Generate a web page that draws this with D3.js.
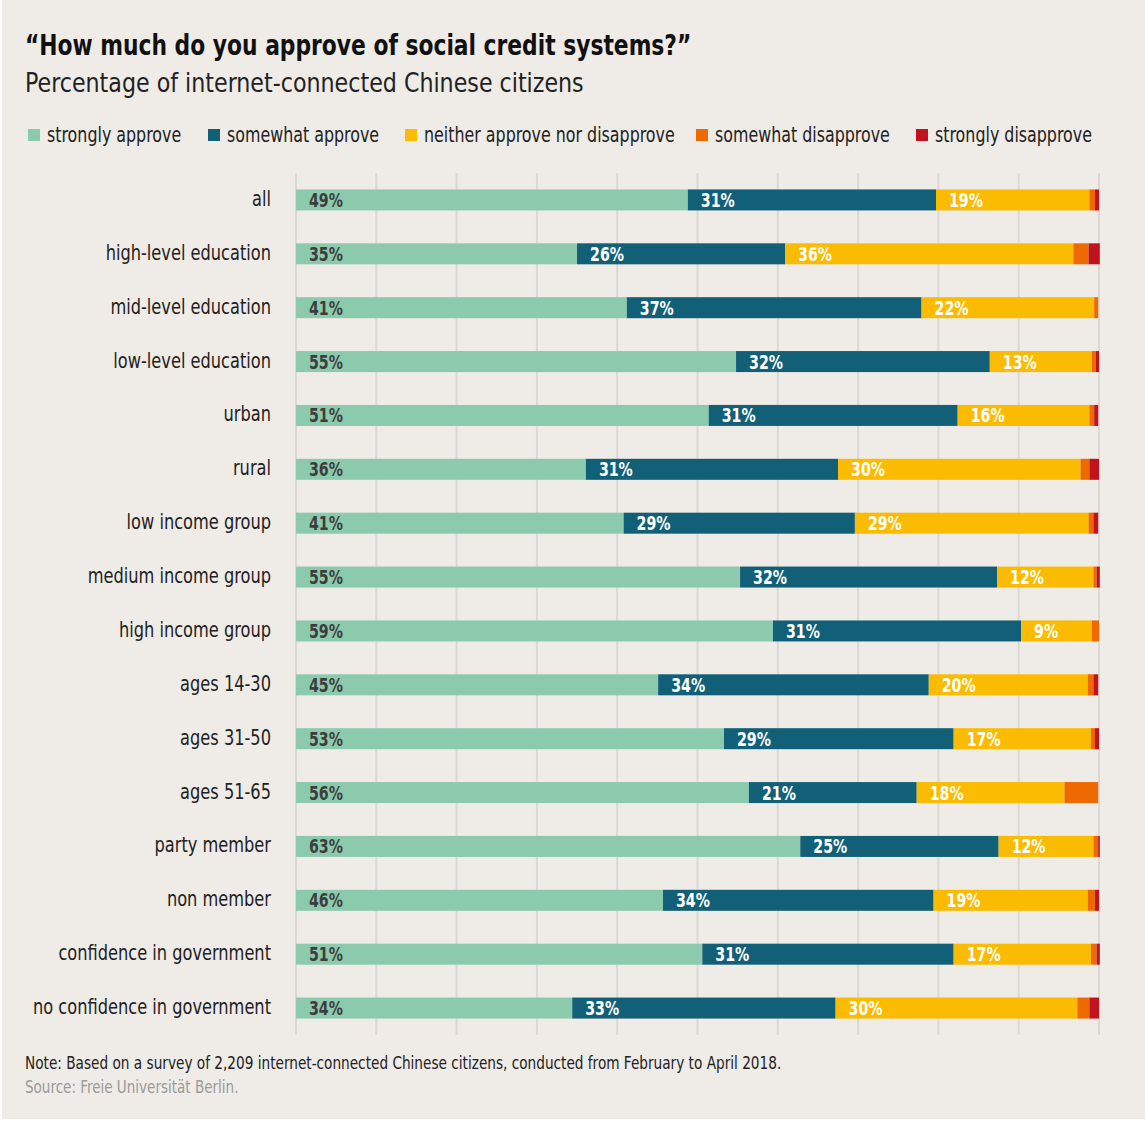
<!DOCTYPE html>
<html lang="en">
<head>
    <meta charset="UTF-8">
    <title>Social credit approval</title>
    <script src="https://cdn.jsdelivr.net/npm/d3@7/dist/d3.min.js"></script>
    <style>
        html, body { margin: 0; padding: 0; background: #ffffff; }
        svg { display: block; }
        text { font-family: "DejaVu Sans Condensed", "DejaVu Sans", sans-serif; }
    </style>
</head>
<body>
<div id="chart"></div>
<script>
// Data (percent of respondents)
const categories = [
    "all", "high-level education", "mid-level education", "low-level education",
    "urban", "rural", "low income group", "medium income group", "high income group",
    "ages 14-30", "ages 31-50", "ages 51-65", "party member", "non member",
    "confidence in government", "no confidence in government"
];
const seriesNames = [
    "strongly approve", "somewhat approve", "neither approve nor disapprove",
    "somewhat disapprove", "strongly disapprove"
];
const stronglyApprove    = [48.8, 35.0, 41.2, 54.8, 51.4, 36.1, 40.8, 55.3, 59.4, 45.1, 53.3, 56.4, 62.8, 45.7, 50.6, 34.4];
const somewhatApprove    = [30.9, 25.9, 36.7, 31.6, 31.0, 31.4, 28.8, 32.0, 30.9, 33.7, 28.6, 20.9, 24.7, 33.7, 31.3, 32.8];
const neither            = [19.1, 35.9, 21.5, 12.7, 16.4, 30.2, 29.1, 12.0, 8.8, 19.8, 17.1, 18.4, 11.8, 19.2, 17.1, 30.1];
const somewhatDisapprove = [0.7, 1.9, 0.5, 0.5, 0.6, 1.1, 0.6, 0.4, 0.9, 0.7, 0.5, 4.2, 0.6, 0.9, 0.7, 1.5];
const stronglyDisapprove = [0.5, 1.4, 0.0, 0.4, 0.5, 1.2, 0.6, 0.4, 0.0, 0.6, 0.5, 0.0, 0.2, 0.5, 0.4, 1.2];
const xTicks = [0, 10, 20, 30, 40, 50, 60, 70, 80, 90, 100];

const colors = ["#8ccaae", "#125f78", "#fbbb00", "#ee6a00", "#c0131f"];
const labelColors = ["#3d3d3d", "#ffffff", "#ffffff", null, null];

const width = 1145, height = 1121;
const margin = { top: 173, right: 46, bottom: 87, left: 296 };

// the reference uses a condensed face, so narrow the glyphs a bit
function squeeze(sel, k) {
    sel.each(function() {
        const len = this.getComputedTextLength();
        d3.select(this)
            .attr("textLength", len * k)
            .attr("lengthAdjust", "spacingAndGlyphs");
    });
}

const rows = categories.map((c, i) => ({
    category: c,
    "strongly approve": stronglyApprove[i],
    "somewhat approve": somewhatApprove[i],
    "neither approve nor disapprove": neither[i],
    "somewhat disapprove": somewhatDisapprove[i],
    "strongly disapprove": stronglyDisapprove[i]
}));

const stack = d3.stack().keys(seriesNames)(rows);

const svg = d3.select("#chart").append("svg")
    .attr("width", width)
    .attr("height", height);

// background with thin white edge on left and bottom
svg.append("rect")
    .attr("x", 2).attr("y", 0)
    .attr("width", width - 2).attr("height", height - 2)
    .attr("fill", "#efebe6");

const x = d3.scaleLinear()
    .domain([0, 100])
    .range([margin.left, width - margin.right]);

const y = d3.scaleBand()
    .domain(categories)
    .range([margin.top, height - margin.bottom + 1])
    .paddingInner(0.61)
    .paddingOuter(0.305);

// Title
svg.append("text")
    .attr("x", 25).attr("y", 55)
    .attr("font-size", 29)
    .attr("font-weight", "bold")
    .attr("fill", "#111")
    .text("\u201cHow much do you approve of social credit systems?\u201d")
    .call(squeeze, 0.836);

svg.append("text")
    .attr("x", 25).attr("y", 92)
    .attr("font-size", 27)
    .attr("fill", "#222")
    .text("Percentage of internet-connected Chinese citizens")
    .call(squeeze, 0.913);

// Legend
const legendX = [28, 208, 405, 696, 916];
const legend = svg.append("g");
seriesNames.forEach((name, i) => {
    legend.append("rect")
        .attr("x", legendX[i]).attr("y", 129)
        .attr("width", 12).attr("height", 12)
        .attr("fill", colors[i]);
    legend.append("text")
        .attr("x", legendX[i] + 19).attr("y", 142)
        .attr("font-size", 21)
        .attr("fill", "#222")
        .text(name)
        .call(squeeze, 0.84);
});

// Gridlines
svg.append("g")
    .selectAll("line")
    .data(xTicks)
    .join("line")
    .attr("x1", d => x(d)).attr("x2", d => x(d))
    .attr("y1", margin.top).attr("y2", 1035)
    .attr("stroke", "#dbd8d5")
    .attr("stroke-width", 2);

// Category labels
svg.append("g")
    .selectAll("text")
    .data(categories)
    .join("text")
    .attr("x", 271)
    .attr("y", d => y(d) + y.bandwidth() / 2 + 6)
    .attr("text-anchor", "end")
    .attr("font-size", 21)
    .attr("fill", "#222")
    .text(d => d)
    .call(squeeze, 0.858);

// Bars
const layers = svg.append("g")
    .selectAll("g")
    .data(stack)
    .join("g")
    .attr("fill", (d, i) => colors[i]);

layers.selectAll("rect")
    .data(d => d)
    .join("rect")
    .attr("x", d => x(d[0]))
    .attr("y", d => y(d.data.category))
    .attr("width", d => x(d[1]) - x(d[0]))
    .attr("height", y.bandwidth());

// Value labels for the first three series
stack.forEach((layer, i) => {
    if (!labelColors[i]) return;
    svg.append("g")
        .selectAll("text")
        .data(layer)
        .join("text")
        .attr("x", d => x(d[0]) + 13)
        .attr("y", d => y(d.data.category) + y.bandwidth() / 2 + 7)
        .attr("font-size", 19)
        .attr("font-weight", "bold")
        .attr("fill", labelColors[i])
        .text(d => Math.round(d[1] - d[0]) + "%")
        .call(squeeze, 0.83);
});

// Footer
svg.append("text")
    .attr("x", 25).attr("y", 1069)
    .attr("font-size", 18)
    .attr("fill", "#222")
    .text("Note: Based on a survey of 2,209 internet-connected Chinese citizens, conducted from February to April 2018.")
    .call(squeeze, 0.843);

svg.append("text")
    .attr("x", 25).attr("y", 1093)
    .attr("font-size", 18)
    .attr("fill", "#9a9a9a")
    .text("Source: Freie Universit\u00e4t Berlin.")
    .call(squeeze, 0.835);
</script>
</body>
</html>
